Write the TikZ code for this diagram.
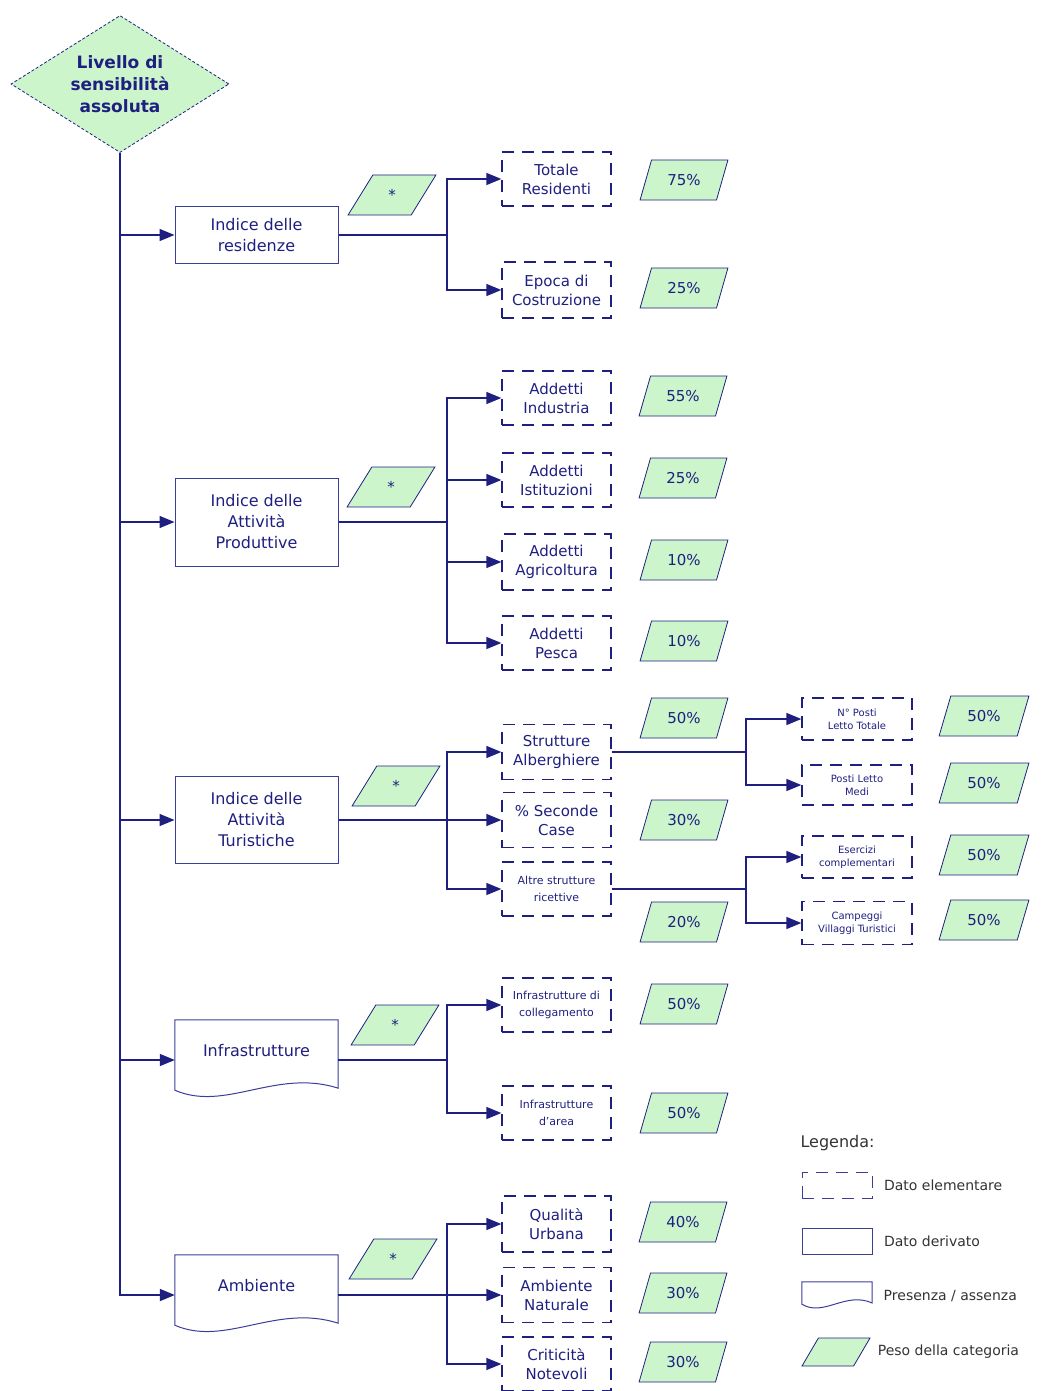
\documentclass[tikz,border=0pt]{standalone}
\usepackage{fontspec}
\setmainfont{DejaVu Sans}
\usetikzlibrary{shapes.geometric,arrows.meta,calc,positioning}

\definecolor{navy}{HTML}{1F1F80}
\definecolor{boxblue}{HTML}{3C3C9A}
\definecolor{lightgreen}{HTML}{CCF5CC}
\definecolor{legtext}{HTML}{333333}

\tikzset{
  derived/.style={draw=boxblue, line width=1pt, minimum width=163pt, align=center,
    text=navy, font=\fontsize{16}{21}\selectfont},
  docbox/.style={minimum width=163pt, minimum height=80pt, align=center, text depth=20pt,
    text=navy, font=\fontsize{16}{21}\selectfont},
  elem/.style={draw=navy, line width=1.3pt, dash pattern=on 12pt off 8pt,
    minimum width=109pt, minimum height=54pt, align=center, text=navy,
    font=\fontsize{15}{19}\selectfont},
  elemsmall/.style={elem, font=\fontsize{11}{17}\selectfont},
  elemtiny/.style={elem, minimum width=110pt, minimum height=42pt,
    font=\fontsize{10}{13}\selectfont},
  weight/.style={trapezium, trapezium left angle=65, trapezium right angle=115,
    trapezium stretches=true, draw=navy, line width=0.8pt, fill=lightgreen,
    minimum width=88pt, minimum height=40pt, inner sep=1pt, text=navy,
    font=\fontsize{15}{18}\selectfont},
  legitem/.style={text=legtext, font=\fontsize{14}{17}\selectfont},
  link/.style={draw=navy, line width=1.4pt},
  arrow/.style={link, -{Triangle[length=15pt,width=12pt]}},
}

% document shape: flat top, wavy bottom
\newcommand{\docshape}[2]{%
  \draw[draw=boxblue, line width=1pt] ($(#1.south west)+(0,-#2)$) -- (#1.north west)
    -- (#1.north east) -- ($(#1.south east)+(0,{-1.2*#2})$)
    .. controls ($(#1.south west)!0.62!(#1.south east)+(0,{-3.2*#2})$)
    and ($(#1.south west)!0.31!(#1.south east)+(0,{1.2*#2})$)
    .. ($(#1.south west)+(0,-#2)$) -- cycle;}

\begin{document}
\begin{tikzpicture}[x=1pt, y=-1pt]
  \useasboundingbox (0,0) rectangle (1041,1391);

  % root
  \node[diamond, aspect=1.59, minimum width=218pt, minimum height=137pt, inner sep=0pt,
    draw=navy, densely dashed, line width=0.8pt, fill=lightgreen, text=navy, align=center,
    font=\bfseries\fontsize{17}{22}\selectfont] (top) at (120,84)
    {Livello di\\sensibilità\\assoluta};

  % indices
  \node[derived, minimum height=57pt] (res) at (256.5,235) {Indice delle\\residenze};
  \node[derived, minimum height=88pt] (prod) at (256.5,522) {Indice delle\\Attività\\Produttive};
  \node[derived, minimum height=87pt] (tur) at (256.5,820) {Indice delle\\Attività\\Turistiche};
  \node[docbox] (infra) at (256.5,1060) {Infrastrutture};
  \docshape{infra}{10}
  \node[docbox] (amb) at (256.5,1295) {Ambiente};
  \docshape{amb}{10}

  \draw[arrow, line width=1.8pt] (top.south) |- (amb.west);
  \foreach \n in {res,prod,tur,infra}
    \draw[arrow] (top.south |- \n.west) -- (\n.west);

  % weights of the indices
  \node[weight] (wres) at (392,195) {*};
  \node[weight] (wprod) at (391,487) {*};
  \node[weight] (wtur) at (396,786) {*};
  \node[weight] (winfra) at (395,1025) {*};
  \node[weight] (wamb) at (393,1259) {*};

  % elementary data
  \node[elem] (tot) at (556.5,179) {Totale\\Residenti};
  \node[elem, minimum height=56pt] (epo) at (556.5,290) {Epoca di\\Costruzione};
  \node[elem] (ind) at (556.5,398) {Addetti\\Industria};
  \node[elem] (ist) at (556.5,480) {Addetti\\Istituzioni};
  \node[elem, minimum height=56pt] (agr) at (556.5,562) {Addetti\\Agricoltura};
  \node[elem] (pes) at (556.5,643) {Addetti\\Pesca};
  \node[elem, minimum height=55pt] (alb) at (556.5,752) {Strutture\\Alberghiere};
  \node[elem, minimum height=55pt] (sec) at (556.5,820) {\% Seconde\\Case};
  \node[elemsmall] (alt) at (556.5,889) {Altre strutture\\ricettive};
  \node[elemsmall] (col) at (556.5,1005) {Infrastrutture di\\collegamento};
  \node[elemsmall] (are) at (556.5,1113) {Infrastrutture\\d'area};
  \node[elem, minimum height=56pt] (qua) at (556.5,1224) {Qualità\\Urbana};
  \node[elem, minimum height=55pt] (nat) at (556.5,1295) {Ambiente\\Naturale};
  \node[elem] (cri) at (556.5,1364) {Criticità\\Notevoli};

  \node[elemtiny] (ptot) at (857,719) {N° Posti\\Letto Totale};
  \node[elemtiny, minimum height=40pt] (pmed) at (857,785) {Posti Letto\\Medi};
  \node[elemtiny] (ese) at (857,857) {Esercizi\\complementari};
  \node[elemtiny, minimum height=43pt] (cam) at (857,923) {Campeggi\\Villaggi Turistici};

  % weights of the data
  \node[weight] (w1) at (684,180) {75\%};
  \node[weight] (w2) at (684,288) {25\%};
  \node[weight] (w3) at (683,396) {55\%};
  \node[weight] (w4) at (683,478) {25\%};
  \node[weight] (w5) at (684,560) {10\%};
  \node[weight] (w6) at (684,641) {10\%};
  \node[weight] (w7) at (684,718) {50\%};
  \node[weight] (w8) at (684,820) {30\%};
  \node[weight] (w9) at (684,922) {20\%};
  \node[weight] (w10) at (684,1004) {50\%};
  \node[weight] (w11) at (684,1113) {50\%};
  \node[weight] (w12) at (683,1222) {40\%};
  \node[weight] (w13) at (683,1293) {30\%};
  \node[weight] (w14) at (683,1362) {30\%};
  \node[weight, minimum width=90pt] (w15) at (984,716) {50\%};
  \node[weight, minimum width=90pt] (w16) at (984,783) {50\%};
  \node[weight, minimum width=90pt] (w17) at (984,855) {50\%};
  \node[weight, minimum width=90pt] (w18) at (984,920) {50\%};

  % branches
  \coordinate (lv1) at (447,0);
  \coordinate (lv2) at (746,0);
  \draw[link] (res.east) -- (res.east -| lv1);
  \foreach \c in {tot,epo}
    \draw[arrow] (res.east -| lv1) |- (\c.west);
  \draw[link] (prod.east) -- (prod.east -| lv1);
  \foreach \c in {ind,ist,agr,pes}
    \draw[arrow] (prod.east -| lv1) |- (\c.west);
  \draw[link] (tur.east) -- (tur.east -| lv1);
  \foreach \c in {alb,sec,alt}
    \draw[arrow] (tur.east -| lv1) |- (\c.west);
  \draw[link] (alb.east) -- (alb.east -| lv2);
  \foreach \c in {ptot,pmed}
    \draw[arrow] (alb.east -| lv2) |- (\c.west);
  \draw[link] (alt.east) -- (alt.east -| lv2);
  \foreach \c in {ese,cam}
    \draw[arrow] (alt.east -| lv2) |- (\c.west);
  \draw[link] (infra.east) -- (infra.east -| lv1);
  \foreach \c in {col,are}
    \draw[arrow] (infra.east -| lv1) |- (\c.west);
  \draw[link] (amb.east) -- (amb.east -| lv1);
  \foreach \c in {qua,nat,cri}
    \draw[arrow] (amb.east -| lv1) |- (\c.west);

  % legend
  \node[anchor=west, text=legtext, font=\fontsize{16}{19}\selectfont] (legend) at (797,1143) {Legenda:};
  \node[elem, draw=boxblue, line width=1pt, minimum width=70pt, minimum height=26pt] (lelem) at (837,1185) {};
  \node[derived, minimum width=70pt, minimum height=26pt] (lder) at (837,1241) {};
  \node[docbox, minimum width=70pt, minimum height=28pt] (ldoc) at (837,1296) {};
  \docshape{ldoc}{6}
  \node[weight, minimum width=68pt, minimum height=28pt] (lwt) at (836,1352) {};
  \node[legitem, right=8pt of lelem] {Dato elementare};
  \node[legitem, right=8pt of lder] {Dato derivato};
  \node[legitem, right=8pt of ldoc] {Presenza / assenza};
  \node[legitem, right=12pt of lwt] {Peso della categoria};
\end{tikzpicture}
\end{document}
